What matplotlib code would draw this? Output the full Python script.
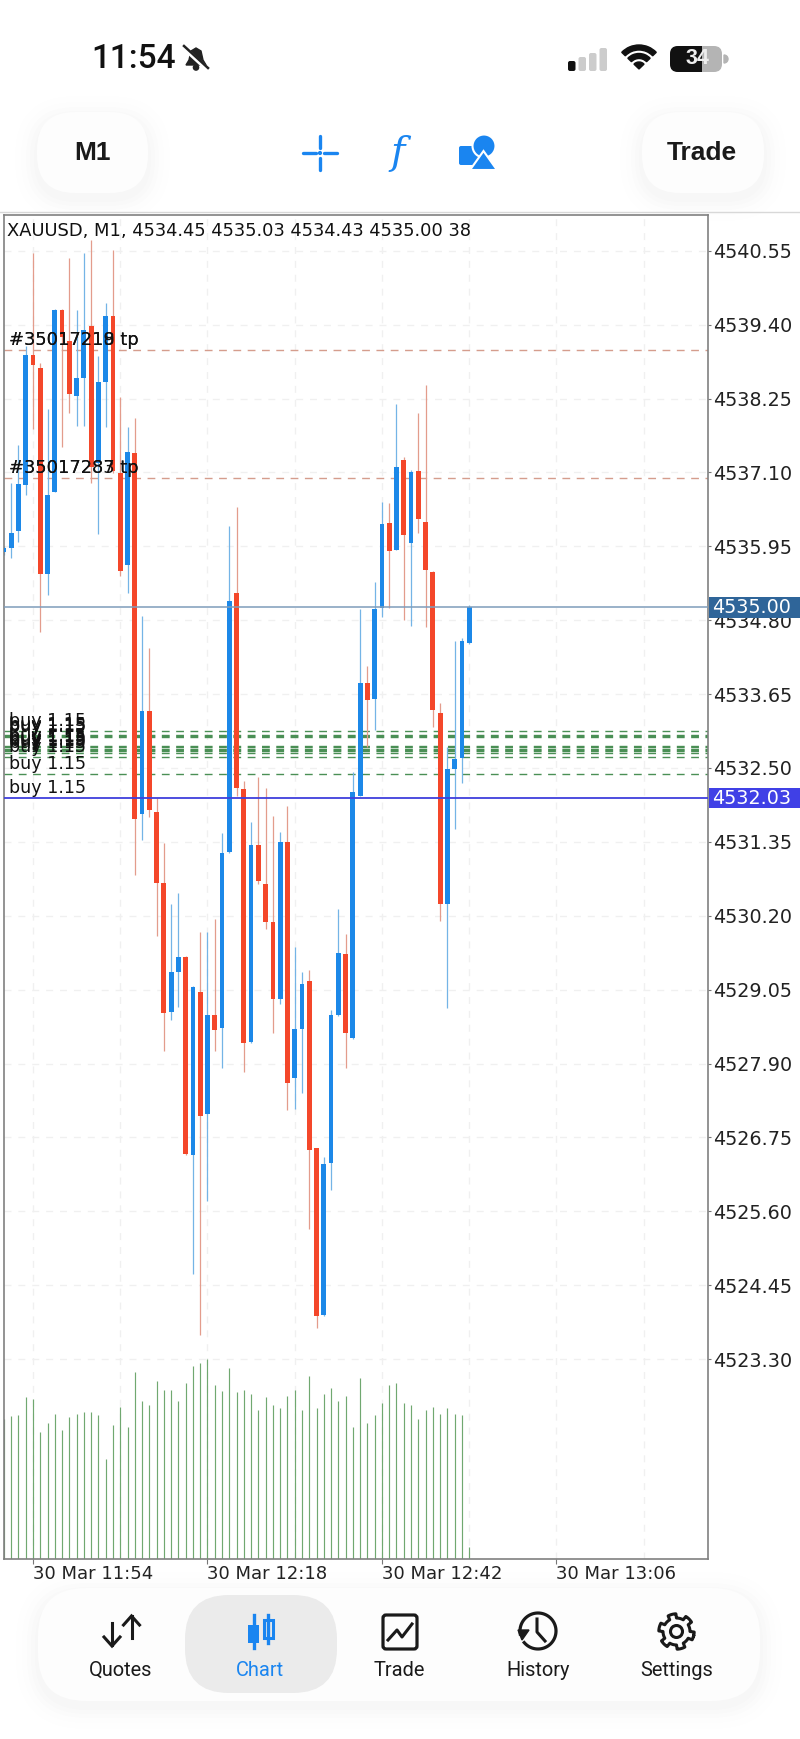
import numpy as np
import matplotlib
matplotlib.use('Agg')
import matplotlib.pyplot as plt
from matplotlib.patches import FancyBboxPatch, Rectangle, Circle, Polygon, Wedge
from matplotlib.transforms import blended_transform_factory

# minutes relative to 30 Mar 11:54, one M1 bar each
minutes = list(range(-4, 61))
opens = [4535.86, 4535.93, 4536.19, 4536.90, 4538.92, 4538.73, 4535.52, 4536.80, 4539.63, 4539.15,
         4538.29, 4538.57, 4539.38, 4537.25, 4538.50, 4539.53, 4537.09, 4535.66, 4537.40, 4531.78,
         4533.39, 4531.82, 4530.71, 4528.70, 4529.33, 4529.56, 4526.48, 4529.02, 4527.12, 4528.66,
         4528.45, 4531.19, 4535.23, 4532.17, 4528.23, 4531.30, 4530.69, 4530.11, 4528.90, 4531.35,
         4527.67, 4528.44, 4529.18, 4526.58, 4523.98, 4526.35, 4528.65, 4529.61, 4528.30, 4532.07,
         4533.83, 4533.57, 4534.99, 4536.31, 4535.90, 4537.30, 4536.00, 4537.12, 4536.33, 4535.55,
         4533.36, 4530.38, 4532.48, 4532.65, 4534.45]
highs = [4535.95, 4536.94, 4537.53, 4539.07, 4540.51, 4538.80, 4538.09, 4539.64, 4539.65, 4540.44,
         4539.63, 4540.51, 4540.72, 4538.91, 4539.74, 4540.56, 4538.27, 4537.81, 4537.95, 4534.87,
         4534.37, 4532.03, 4531.33, 4530.38, 4530.56, 4529.58, 4529.10, 4529.95, 4529.95, 4530.15,
         4531.49, 4536.27, 4536.56, 4532.30, 4531.66, 4532.36, 4532.19, 4531.75, 4531.50, 4531.91,
         4529.71, 4529.32, 4529.35, 4526.59, 4526.44, 4528.73, 4530.31, 4529.92, 4532.44, 4534.97,
         4534.08, 4535.39, 4536.64, 4536.63, 4538.16, 4537.34, 4537.13, 4538.02, 4538.46, 4535.56,
         4533.51, 4532.83, 4534.47, 4534.52, 4535.03]
lows = [4535.81, 4535.77, 4536.01, 4536.75, 4537.78, 4534.61, 4535.19, 4536.79, 4537.50, 4538.03,
        4537.82, 4537.82, 4536.94, 4536.14, 4537.81, 4537.09, 4535.49, 4535.22, 4530.83, 4531.38,
        4531.74, 4529.89, 4528.09, 4528.58, 4528.78, 4526.47, 4524.63, 4523.68, 4525.76, 4528.10,
        4527.83, 4531.18, 4532.06, 4527.77, 4528.22, 4530.69, 4529.99, 4528.38, 4528.83, 4527.17,
        4527.19, 4527.44, 4525.33, 4523.78, 4523.97, 4525.94, 4528.64, 4527.83, 4528.29, 4532.06,
        4532.82, 4533.09, 4534.85, 4534.99, 4535.89, 4534.80, 4534.71, 4536.16, 4534.70, 4533.14,
        4530.12, 4528.77, 4531.55, 4532.26, 4534.43]
closes = [4535.92, 4536.16, 4536.92, 4538.93, 4538.77, 4535.52, 4536.75, 4539.62, 4539.21, 4538.32,
          4538.57, 4539.31, 4537.19, 4538.51, 4539.53, 4537.12, 4535.57, 4537.41, 4531.70, 4533.39,
          4531.85, 4530.71, 4528.69, 4529.33, 4529.56, 4526.49, 4529.09, 4527.08, 4528.66, 4528.43,
          4531.18, 4535.10, 4532.19, 4528.22, 4531.30, 4530.74, 4530.11, 4528.91, 4531.35, 4527.59,
          4528.44, 4529.14, 4526.56, 4523.97, 4526.34, 4528.65, 4529.62, 4528.38, 4532.13, 4533.83,
          4533.56, 4534.97, 4536.29, 4535.88, 4537.18, 4536.13, 4537.10, 4536.37, 4535.58, 4533.40,
          4530.38, 4532.48, 4532.64, 4534.47, 4535.00]
volumes = [430, 441, 443, 498, 492, 391, 419, 448, 396, 436, 448, 453, 453, 442, 307, 414, 469, 408, 576, 487,
           475, 547, 520, 520, 487, 543, 593, 605, 615, 537, 516, 587, 515, 520, 508, 458, 498, 475, 464, 503,
           520, 458, 565, 464, 508, 526, 487, 503, 408, 559, 419, 443, 481, 536, 542, 481, 475, 430, 458, 469,
           447, 464, 447, 442, 38]

priceTicks = [4540.55, 4539.40, 4538.25, 4537.10, 4535.95, 4534.80, 4533.65, 4532.50, 4531.35,
              4530.20, 4529.05, 4527.90, 4526.75, 4525.60, 4524.45, 4523.30]
timeTicks = [0, 24, 48, 72]
timeLabels = ['30 Mar 11:54', '30 Mar 12:18', '30 Mar 12:42', '30 Mar 13:06']
gridMinutes = [0, 12, 24, 36, 48, 60, 72, 84]

tpLevels = [4539.01, 4537.01]
tpLabels = [['#35017218 tp', '#35017219 tp'], ['#35017283 tp', '#35017287 tp']]
buyLevels = [4533.08, 4533.02, 4533.00, 4532.98, 4532.84, 4532.82, 4532.80, 4532.78, 4532.76, 4532.74, 4532.67, 4532.40]
buyLabel = 'buy 1.15'
bidPrice = 4535.00
avgPrice = 4532.03
header = 'XAUUSD, M1, 4534.45 4535.03 4534.43 4535.00 38'
navLabels = ['Quotes', 'Chart', 'Trade', 'History', 'Settings']
navCenters = [121, 260, 399, 538, 677]

RED = '#f4472a'
BLUE = '#1c88e8'
RED_WICK = '#e39c8c'
BLUE_WICK = '#74b4e6'
UI_BLUE = '#1a85f0'
W, H = 800, 1739
LEFT, RIGHT, TOP, BOTTOM = 4, 708, 215, 1559

plt.rcParams['font.family'] = ['DejaVu Sans']
fig = plt.figure(figsize=(W / 100, H / 100), dpi=100, facecolor='white')


def boxFromPixels(l, t, r, b):
    return [l / W, 1 - b / H, (r - l) / W, (b - t) / H]


# page furniture is laid out in pixels
ui = fig.add_axes([0, 0, 1, 1], zorder=0)
ui.set_xlim(0, W)
ui.set_ylim(H, 0)
ui.axis('off')

volAx = fig.add_axes(boxFromPixels(LEFT, TOP, RIGHT, BOTTOM), zorder=1)
ax = fig.add_axes(boxFromPixels(LEFT, TOP, RIGHT, BOTTOM), zorder=2)
ax.patch.set_alpha(0)

xlim = (-3.99, 92.85)
ax.set_xlim(*xlim)
ax.set_ylim(4520.19, 4541.106)
volAx.set_xlim(*xlim)
volAx.set_ylim(0, (BOTTOM - TOP) * 3.08)

# volume behind everything
volAx.vlines(minutes, 0, volumes, color='#70a870', lw=0.85, zorder=3)
volAx.set_xticks([])
volAx.set_yticks([])
for s in volAx.spines.values():
    s.set_visible(False)

# grid
ax.set_yticks(priceTicks)
ax.set_yticklabels(['%.2f' % p for p in priceTicks])
ax.yaxis.tick_right()
ax.set_xticks(timeTicks)
ax.set_xticklabels(timeLabels, ha='left')
ax.tick_params(axis='y', length=2.5, width=0.8, color='#777777', labelsize=13.8, labelcolor='#222222', pad=1)
ax.tick_params(axis='x', length=3.5, width=0.8, color='#777777', labelsize=13, labelcolor='#222222', pad=1)
for m in gridMinutes:
    volAx.axvline(m, color='#f0f0f0', lw=1, ls=(0, (5, 5)), zorder=1)
for p in priceTicks:
    ax.axhline(p, color='#f0f0f0', lw=1, ls=(0, (5, 5)), zorder=0.5)

# order lines
for p in tpLevels:
    ax.axhline(p, color='#d59d8d', lw=1, ls=(0, (5.6, 4.7)), zorder=1)
for p in buyLevels:
    ax.axhline(p, color='#4a8f55', lw=1, ls=(0, (5.6, 4.7)), zorder=1)

# candles
for m, o, h, l, c in zip(minutes, opens, highs, lows, closes):
    up = c >= o
    ax.vlines(m, l, h, color=BLUE_WICK if up else RED_WICK, lw=0.9, zorder=2)
    ax.bar(m, abs(c - o), bottom=min(o, c), width=0.66, color=BLUE if up else RED, lw=0, zorder=3)

ax.axhline(bidPrice, color='#7f9dbb', lw=1.1, zorder=3.5)
ax.axhline(avgPrice, color='#3f3fdc', lw=1.3, zorder=3.5)

# labels sit 10 px above their line
labelOffset = 10 / 64.26
trans = blended_transform_factory(ax.transAxes, ax.transData)
labelX = 5 / (RIGHT - LEFT)
for p, names in zip(tpLevels, tpLabels):
    for name in names:
        ax.text(labelX, p + labelOffset, name, transform=trans, fontsize=12.9, color='#111111',
                va='center', ha='left', zorder=6)
for p in buyLevels + [avgPrice]:
    ax.text(labelX, p + labelOffset, buyLabel, transform=trans, fontsize=12.6, color='#111111',
            va='center', ha='left', zorder=6)
ax.text(3 / (RIGHT - LEFT), 1 - 15.5 / (BOTTOM - TOP), header, transform=ax.transAxes, fontsize=12.9,
        color='#111111', va='center', ha='left', zorder=6)

# price tags
tagH = 20.6 / 64.26
for p, col in [(bidPrice, '#2f6599'), (avgPrice, '#4040e6')]:
    ax.add_patch(Rectangle((1.0015, p - tagH / 2), 92 / (RIGHT - LEFT), tagH, transform=trans,
                           facecolor=col, edgecolor='none', clip_on=False, zorder=5))
    ax.text(1 + 4.5 / (RIGHT - LEFT), p, '%.2f' % p, transform=trans, fontsize=13.8, color='white',
            va='center', ha='left', zorder=6, clip_on=False)

for s in ax.spines.values():
    s.set_color('#808080')
    s.set_linewidth(1.2)

# ---- status bar
ui.text(134, 59, '11:54', fontsize=24, family=['Roboto', 'Liberation Sans'], weight='medium',
        color='#111111', ha='center', va='center')
ui.add_patch(Polygon([(196, 48), (201, 51), (203, 60), (206, 65), (186, 65), (189, 60), (191, 51)], color='#222222'))
ui.add_patch(Circle((196, 67.5), 2.6, color='#222222'))
ui.plot([184, 208], [48, 70], color='white', lw=3.2)
ui.plot([184, 208], [46, 68], color='#222222', lw=1.8)

for i, (barH, col) in enumerate(zip([10, 14, 18, 23], ['#111111', '#cccccc', '#cccccc', '#cccccc'])):
    ui.add_patch(FancyBboxPatch((568 + i * 10.5, 71 - barH), 7.5, barH, boxstyle='round,pad=0,rounding_size=2',
                                facecolor=col, edgecolor='none'))
for r, w in [(24, 5), (15.5, 5), (7, 7)]:
    ui.add_patch(Wedge((639, 69), r, 224, 316, width=w, color='#111111'))
ui.add_patch(FancyBboxPatch((670, 46), 52, 26, boxstyle='round,pad=0,rounding_size=8', facecolor='#b4b4b4', edgecolor='none'))
ui.add_patch(FancyBboxPatch((670, 46), 30, 26, boxstyle='round,pad=0,rounding_size=8', facecolor='#111111', edgecolor='none'))
ui.add_patch(Rectangle((690, 46), 12, 26, facecolor='#111111', edgecolor='none'))
ui.add_patch(Wedge((724, 59), 4, -90, 90, color='#b4b4b4'))
ui.text(697, 59, '34', fontsize=15.5, family='Liberation Sans', weight='bold', color='#eeeeee', ha='center', va='center')


def softBlob(l, t, r, b, rounding, face='#fdfdfd'):
    # faint layered shadow, then the body
    for grow, alpha in [(22, 0.004), (16, 0.005), (11, 0.006), (7, 0.007), (3, 0.008)]:
        ui.add_patch(FancyBboxPatch((l - grow, t - grow + 6), r - l + 2 * grow, b - t + 2 * grow,
                                    boxstyle='round,pad=0,rounding_size=%g' % (rounding + grow),
                                    facecolor='black', alpha=alpha, edgecolor='none'))
    ui.add_patch(FancyBboxPatch((l, t), r - l, b - t, boxstyle='round,pad=0,rounding_size=%g' % rounding,
                                facecolor=face, edgecolor='none'))


# ---- top toolbar
softBlob(37, 112, 148, 193, 38)
softBlob(642, 112, 764, 193, 38)
ui.text(92, 153, 'M1', fontsize=19, family='Liberation Sans', weight='bold', color='#1a1a1a', ha='center', va='center')
ui.text(702, 153, 'Trade', fontsize=19, family='Liberation Sans', weight='bold', color='#1a1a1a', ha='center', va='center')
ui.plot([303, 316], [153, 153], color=UI_BLUE, lw=2.4, solid_capstyle='round')
ui.plot([324, 337], [153, 153], color=UI_BLUE, lw=2.4, solid_capstyle='round')
ui.plot([320, 320], [136, 148], color=UI_BLUE, lw=2.4, solid_capstyle='round')
ui.plot([320, 320], [158, 170], color=UI_BLUE, lw=2.4, solid_capstyle='round')
ui.add_patch(Circle((320, 153), 1.4, color=UI_BLUE))
ui.text(398, 154, 'f', fontsize=28, family='DejaVu Serif', style='italic', color=UI_BLUE, ha='center', va='center')
ui.add_patch(FancyBboxPatch((459, 146), 19, 19, boxstyle='round,pad=0,rounding_size=2', facecolor=UI_BLUE, edgecolor='none'))
ui.add_patch(Circle((484, 146), 11.5, facecolor=UI_BLUE, edgecolor='white', lw=1.5))
ui.add_patch(Polygon([(483.5, 151), (497, 170), (470, 170)], facecolor=UI_BLUE, edgecolor='white', lw=1.5))
ui.plot([0, W], [211.5, 211.5], color='#d8d8d8', lw=1)

# ---- bottom nav
softBlob(38, 1588, 760, 1701, 48)
ui.add_patch(FancyBboxPatch((185, 1595), 152, 98, boxstyle='round,pad=0,rounding_size=44', facecolor='#ebebeb', edgecolor='none'))
for name, cx in zip(navLabels, navCenters):
    ui.text(cx, 1670.5, name, fontsize=14.4, family=['Roboto', 'Liberation Sans'],
            color=UI_BLUE if name == 'Chart' else '#1a1a1a', ha='center', va='center')

dark = '#1a1a1a'
# quotes arrows
ui.plot([112, 112], [1623, 1645], color=dark, lw=2.2)
ui.plot([104, 112, 120], [1637, 1646, 1637], color=dark, lw=2.2, solid_joinstyle='miter')
ui.plot([131.5, 131.5], [1616, 1638], color=dark, lw=2.2)
ui.plot([123.5, 131.5, 139.5], [1625, 1616, 1625], color=dark, lw=2.2, solid_joinstyle='miter')
# chart icon
ui.add_patch(Rectangle((248, 1625), 11, 18, facecolor=UI_BLUE, edgecolor='none'))
ui.plot([253.5, 253.5], [1615, 1648], color=UI_BLUE, lw=2.4)
ui.plot([268, 268], [1615, 1643], color=UI_BLUE, lw=2.4)
ui.add_patch(Rectangle((263.5, 1620), 9, 18, facecolor='#ebebeb', edgecolor=UI_BLUE, lw=2.2))
# trade icon
ui.add_patch(FancyBboxPatch((383, 1615), 34, 34, boxstyle='round,pad=0,rounding_size=3', facecolor='none', edgecolor=dark, lw=2.3))
ui.plot([388, 397, 402, 412], [1640, 1630, 1637, 1624], color=dark, lw=2.2)
# history icon
th = np.radians(np.linspace(-190, 140, 80))
ui.plot(538 + 18 * np.cos(th), 1631 + 18 * np.sin(th), color=dark, lw=2.3)
ui.add_patch(Polygon([(518, 1630), (529, 1630), (522, 1640)], color=dark))
ui.plot([537, 537, 545], [1619, 1632, 1641], color=dark, lw=2.2)
# settings gear
ang = np.radians(np.linspace(0, 360, 193))
rad = 13.5 + 4.2 * (np.cos(ang * 6) > 0.1)
ui.plot(676.5 + rad * np.cos(ang + 0.26), 1631.5 + rad * np.sin(ang + 0.26), color=dark, lw=2.2)
ui.add_patch(Circle((676.5, 1631.5), 6, facecolor='none', edgecolor=dark, lw=2.2))

fig.savefig('out.png', dpi=100)
